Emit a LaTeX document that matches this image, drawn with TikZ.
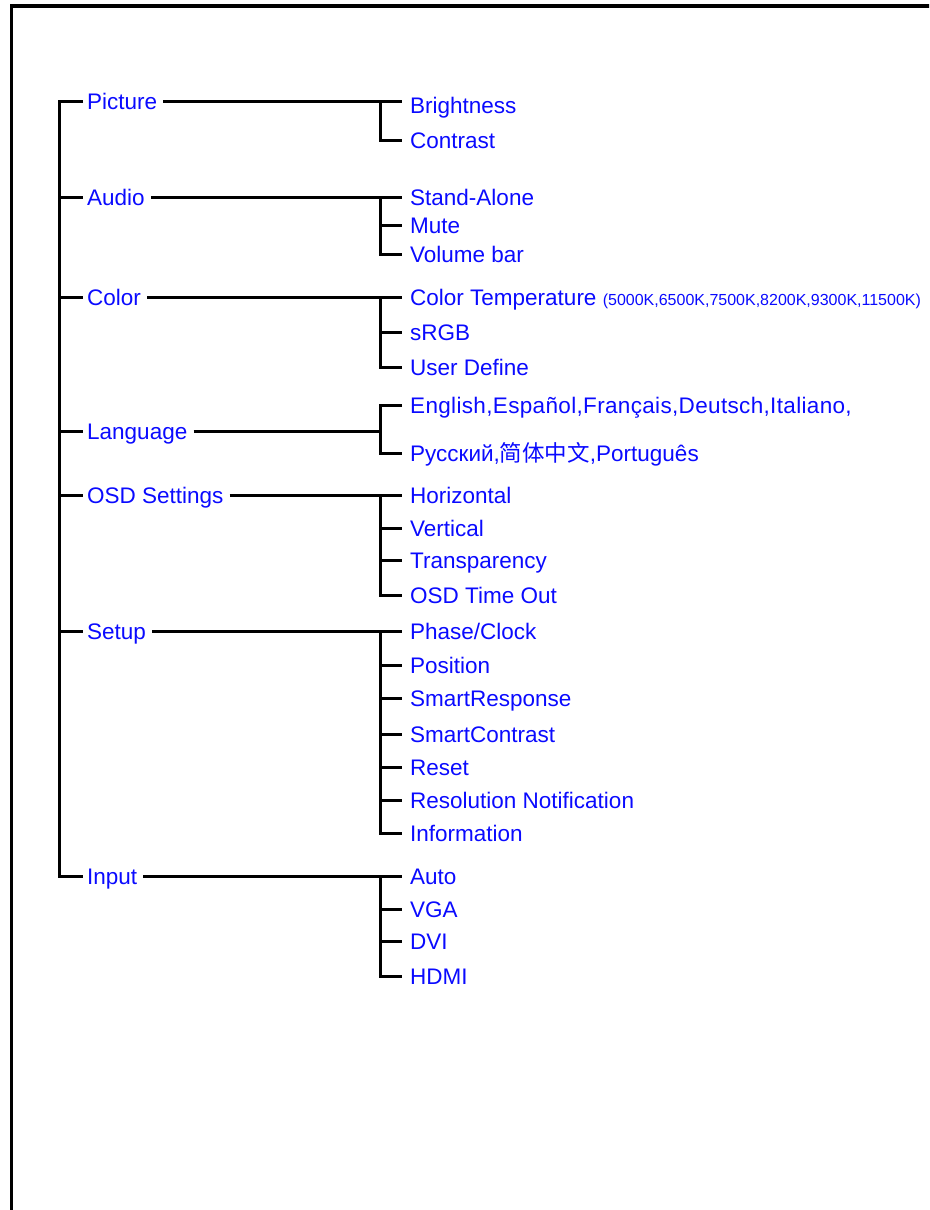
\documentclass[tikz,border=0pt]{standalone}
\usepackage{fontspec}
\setmainfont{Liberation Sans}
\newfontfamily\cjk{Noto Sans CJK SC}
\newfontfamily\widefont[LetterSpace=1.5]{Liberation Sans}
\definecolor{txtblue}{RGB}{10,10,255}
\begin{document}
\begin{tikzpicture}[x=1pt,y=-1pt,
  treeline/.style={line width=3pt, line join=miter, line cap=butt},
  frameline/.style={line width=3.2pt, line join=miter},
  cat/.style={anchor=west, inner xsep=4pt, inner ysep=0pt, text height=16pt, text depth=0pt,
              text=txtblue, font=\fontsize{22.5}{26}\selectfont},
  item/.style={cat, inner xsep=8pt}]
\useasboundingbox (0,0) rectangle (929,1210);
\clip (0,0) rectangle (929,1210);
% frame
\coordinate (fTR) at (940,6);
\coordinate (fTL) at (11.5,6);
\coordinate (fBL) at (11.5,1220);
\draw[frameline] (fTR) -- (fTL) -- (fBL);
% trunk
\coordinate (tr) at (59,101);
% ---------- categories ----------
\node[cat] (pic) at (83,101) {Picture};
\node[cat] (aud) at (83,197) {Audio};
\node[cat] (col) at (83,297) {Color};
\node[cat] (lan) at (83,431) {Language};
\node[cat] (osd) at (83,495) {OSD Settings};
\node[cat] (set) at (83,631) {Setup};
\node[cat] (inp) at (83,876) {Input};
% ---------- branch points ----------
\coordinate (bP) at (380,101);
\coordinate (bA) at (380,197);
\coordinate (bC) at (380,297);
\coordinate (bL) at (380,431);
\coordinate (bO) at (380,495);
\coordinate (bS) at (380,631);
\coordinate (bI) at (380,876);
% ---------- items ----------
\node[item] (p1) at (402,105) {Brightness};
\node[item] (p2) at (402,140) {Contrast};
\node[item] (a1) at (402,197) {Stand-Alone};
\node[item] (a2) at (402,225) {Mute};
\node[item] (a3) at (402,254) {Volume bar};
\node[item] (c1) at (402,297) {Color Temperature {\fontsize{16}{18}\selectfont(5000K,6500K,7500K,8200K,9300K,11500K)}};
\node[item] (c2) at (402,332) {sRGB};
\node[item] (c3) at (402,367) {User Define};
\node[item] (l1) at (402,405) {\widefont English,Español,Français,Deutsch,Italiano,};
\node[item] (l2) at (402,453) {Русский,{\cjk 简体中文},Português};
\node[item] (o1) at (402,495) {Horizontal};
\node[item] (o2) at (402,528) {Vertical};
\node[item] (o3) at (402,560) {Transparency};
\node[item] (o4) at (402,595) {OSD Time Out};
\node[item] (s1) at (402,631) {Phase/Clock};
\node[item] (s2) at (402,665) {Position};
\node[item] (s3) at (402,698) {SmartResponse};
\node[item] (s4) at (402,734) {SmartContrast};
\node[item] (s5) at (402,767) {Reset};
\node[item] (s6) at (402,800) {Resolution Notification};
\node[item] (s7) at (402,833) {Information};
\node[item] (i1) at (402,876) {Auto};
\node[item] (i2) at (402,909) {VGA};
\node[item] (i3) at (402,941) {DVI};
\node[item] (i4) at (402,976) {HDMI};
% ---------- trunk ----------
\draw[treeline] (pic.west) -| (tr |- inp.west) -- (inp.west);
\foreach \n in {aud,col,lan,osd,set}{
  \draw[treeline] (tr |- \n.west) -- (\n.west);
}
% ---------- category lines ----------
\draw[treeline] ([xshift=2pt]pic.east) -- (bP) -- (p1.west |- bP);
\draw[treeline] ([xshift=2pt]aud.east) -- (bA) -- (a1.west);
\draw[treeline] ([xshift=2pt]col.east) -- (bC) -- (c1.west);
\draw[treeline] ([xshift=2pt]lan.east) -- (bL);
\draw[treeline] ([xshift=2pt]osd.east) -- (bO) -- (o1.west);
\draw[treeline] ([xshift=2pt]set.east) -- (bS) -- (s1.west);
\draw[treeline] ([xshift=2pt]inp.east) -- (bI) -- (i1.west);
% ---------- branches ----------
\draw[treeline] (bP) |- (p2.west);
\draw[treeline] (bA) |- (a3.west);
\draw[treeline] (bA |- a2.west) -- (a2.west);
\draw[treeline] (bC) |- (c3.west);
\draw[treeline] (bC |- c2.west) -- (c2.west);
\draw[treeline] (l1.west) -| (bL) |- (l2.west);
\draw[treeline] (bO) |- (o4.west);
\foreach \n in {o2,o3}{ \draw[treeline] (bO |- \n.west) -- (\n.west); }
\draw[treeline] (bS) |- (s7.west);
\foreach \n in {s2,s3,s4,s5,s6}{ \draw[treeline] (bS |- \n.west) -- (\n.west); }
\draw[treeline] (bI) |- (i4.west);
\foreach \n in {i2,i3}{ \draw[treeline] (bI |- \n.west) -- (\n.west); }
\end{tikzpicture}
\end{document}
